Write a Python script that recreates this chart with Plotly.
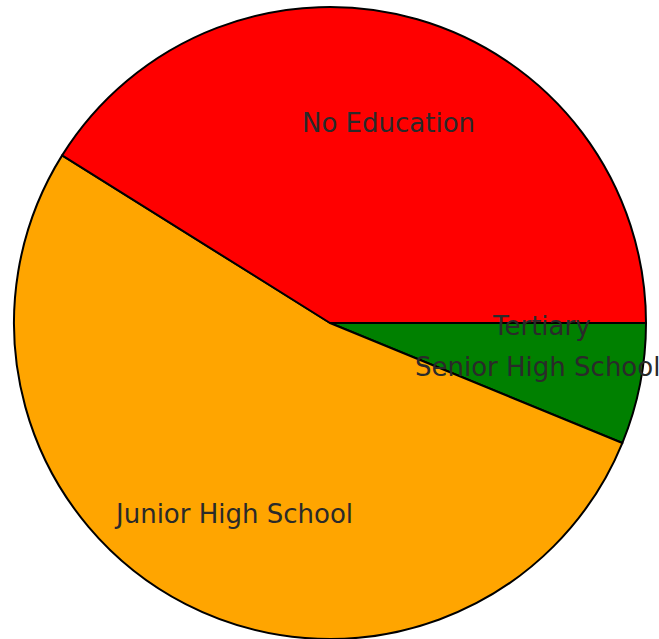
import math
import plotly.graph_objects as go

# Share of respondents by highest education level (percent)
labels = ["No Education", "Junior High School", "Senior High School", "Tertiary"]
values = [41.1, 52.7, 6.2, 0.0]
colors = ["red", "orange", "green", "blue"]

W, H = 659, 639
cx, cy, r = 330, 316, 316   # pie centre (px from left / bottom) and radius
label_frac = 0.67           # labels sit inside the wedges

# Wedges run counterclockwise from 3 o'clock; drawn clockwise in reverse order
fig = go.Figure(go.Pie(
    labels=labels[::-1],
    values=values[::-1],
    marker=dict(colors=colors[::-1], line=dict(color="black", width=2)),
    sort=False,
    direction="clockwise",
    rotation=90,
    textinfo="none",
    hoverinfo="label+percent",
    showlegend=False,
    domain=dict(x=[(cx - r) / W, (cx + r) / W], y=[(cy - r) / H, (cy + r) / H]),
))

# Place each label at the middle angle of its wedge, starting at 3 o'clock
total = sum(values)
start = 0.0
for lab, v in zip(labels, values):
    span = 360.0 * v / total
    mid = math.radians(start + span / 2)
    x = (cx + label_frac * r * math.cos(mid)) / W
    y = (cy + label_frac * r * math.sin(mid)) / H
    fig.add_annotation(x=x, y=y, xref="paper", yref="paper", text=lab,
                       showarrow=False, xanchor="center", yanchor="middle",
                       yshift=-3,
                       font=dict(family="DejaVu Sans", size=26, color="#2a2a2a"))
    start += span

fig.update_layout(
    width=W, height=H,
    margin=dict(l=0, r=0, t=0, b=0),
    paper_bgcolor="white",
    plot_bgcolor="white",
)

fig.write_html("out.html")
